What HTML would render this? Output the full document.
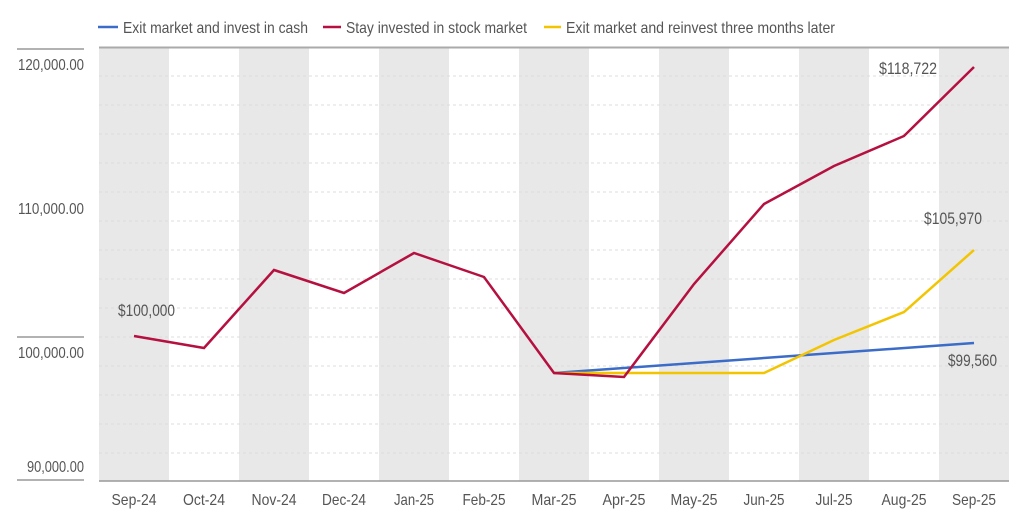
<!DOCTYPE html>
<html><head><style>html,body{margin:0;padding:0;background:#fff}svg{display:block}text{font-family:"Liberation Sans",sans-serif;fill:#555}</style></head>
<body>
<svg width="1024" height="517" viewBox="0 0 1024 517" xmlns="http://www.w3.org/2000/svg">
<g fill="#e8e8e8">
<rect x="99" y="47" width="70" height="434"/><rect x="239" y="47" width="70" height="434"/><rect x="379" y="47" width="70" height="434"/><rect x="519" y="47" width="70" height="434"/><rect x="659" y="47" width="70" height="434"/><rect x="799" y="47" width="70" height="434"/><rect x="939" y="47" width="70" height="434"/>
</g>
<g stroke="#dcdcdc" stroke-dasharray="3,3" stroke-width="1">
<line x1="99" x2="1009" y1="76" y2="76"/><line x1="99" x2="1009" y1="105" y2="105"/><line x1="99" x2="1009" y1="134" y2="134"/><line x1="99" x2="1009" y1="163" y2="163"/><line x1="99" x2="1009" y1="192" y2="192"/><line x1="99" x2="1009" y1="221" y2="221"/><line x1="99" x2="1009" y1="250" y2="250"/><line x1="99" x2="1009" y1="279" y2="279"/><line x1="99" x2="1009" y1="308" y2="308"/><line x1="99" x2="1009" y1="337" y2="337"/><line x1="99" x2="1009" y1="366" y2="366"/><line x1="99" x2="1009" y1="395" y2="395"/><line x1="99" x2="1009" y1="424" y2="424"/><line x1="99" x2="1009" y1="453" y2="453"/>
</g>
<line x1="99" x2="1009" y1="47.5" y2="47.5" stroke="#aaa" stroke-width="2"/>
<line x1="99" x2="1009" y1="481" y2="481" stroke="#999" stroke-width="1.5"/>
<g stroke="#999" stroke-width="1.5"><line x1="17" x2="84" y1="49" y2="49"/><line x1="17" x2="84" y1="337" y2="337"/><line x1="17" x2="84" y1="480" y2="480"/></g>
<g font-size="16">
<text x="18" y="70" textLength="66" lengthAdjust="spacingAndGlyphs">120,000.00</text><text x="18" y="214" textLength="66" lengthAdjust="spacingAndGlyphs">110,000.00</text><text x="18" y="358" textLength="66" lengthAdjust="spacingAndGlyphs">100,000.00</text><text x="27" y="472" textLength="57" lengthAdjust="spacingAndGlyphs">90,000.00</text>
</g>
<g font-size="16" text-anchor="middle" lengthAdjust="spacingAndGlyphs">
<text x="134" y="505" textLength="45" lengthAdjust="spacingAndGlyphs">Sep-24</text><text x="204" y="505" textLength="42" lengthAdjust="spacingAndGlyphs">Oct-24</text><text x="274" y="505" textLength="45" lengthAdjust="spacingAndGlyphs">Nov-24</text><text x="344" y="505" textLength="44" lengthAdjust="spacingAndGlyphs">Dec-24</text><text x="414" y="505" textLength="40" lengthAdjust="spacingAndGlyphs">Jan-25</text><text x="484" y="505" textLength="43" lengthAdjust="spacingAndGlyphs">Feb-25</text><text x="554" y="505" textLength="45" lengthAdjust="spacingAndGlyphs">Mar-25</text><text x="624" y="505" textLength="43" lengthAdjust="spacingAndGlyphs">Apr-25</text><text x="694" y="505" textLength="47" lengthAdjust="spacingAndGlyphs">May-25</text><text x="764" y="505" textLength="41" lengthAdjust="spacingAndGlyphs">Jun-25</text><text x="834" y="505" textLength="37" lengthAdjust="spacingAndGlyphs">Jul-25</text><text x="904" y="505" textLength="45" lengthAdjust="spacingAndGlyphs">Aug-25</text><text x="974" y="505" textLength="44" lengthAdjust="spacingAndGlyphs">Sep-25</text>
</g>
<polyline fill="none" stroke="#3a6cc8" stroke-width="2.5" points="554,373 974,343"/>
<polyline fill="none" stroke="#f2c500" stroke-width="2.5" points="554,373 624,373 694,373 764,373 834,340 904,312 974,250"/>
<polyline fill="none" stroke="#b5103f" stroke-width="2.5" points="134,336 204,348 274,270 344,293 414,253 484,277 554,373 624,377 694,284 764,204 834,166 904,136 974,67"/>
<g font-size="17">
<text x="118" y="316" textLength="57" lengthAdjust="spacingAndGlyphs">$100,000</text><text x="879" y="74" textLength="58" lengthAdjust="spacingAndGlyphs">$118,722</text><text x="924" y="224" textLength="58" lengthAdjust="spacingAndGlyphs">$105,970</text><text x="948" y="366" textLength="49" lengthAdjust="spacingAndGlyphs">$99,560</text>
</g>
<g font-size="16">
<line x1="98" x2="118" y1="27" y2="27" stroke="#3a6cc8" stroke-width="2.5"/><text x="123" y="33" textLength="185" lengthAdjust="spacingAndGlyphs">Exit market and invest in cash</text>
<line x1="323" x2="341" y1="27" y2="27" stroke="#b5103f" stroke-width="2.5"/><text x="346" y="33" textLength="181" lengthAdjust="spacingAndGlyphs">Stay invested in stock market</text>
<line x1="544" x2="561" y1="27" y2="27" stroke="#f2c500" stroke-width="2.5"/><text x="566" y="33" textLength="269" lengthAdjust="spacingAndGlyphs">Exit market and reinvest three months later</text>
</g>
</svg>
</body></html>
